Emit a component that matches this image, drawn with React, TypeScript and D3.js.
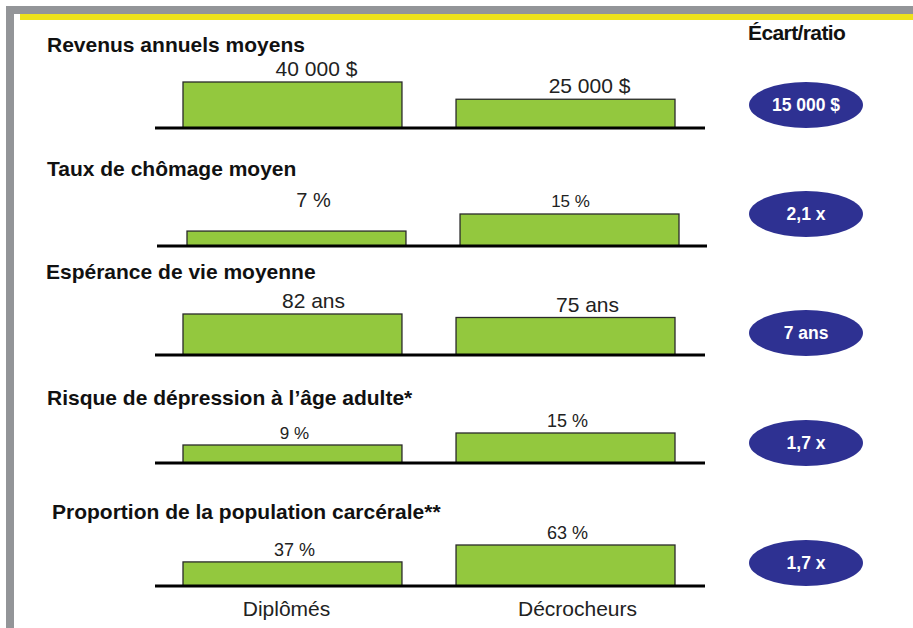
import * as d3 from 'd3';
import * as React from 'react';

const width = 913;
const height = 628;

// data
const groups = ['Diplômés', 'Décrocheurs'];
const indicators = [
  'Revenus annuels moyens',
  'Taux de chômage moyen',
  'Espérance de vie moyenne',
  'Risque de dépression à l’âge adulte*',
  'Proportion de la population carcérale**',
];
const diplomes = [40000, 7, 82, 9, 37];
const decrocheurs = [25000, 15, 75, 15, 63];
const units = ['$', '%', 'ans', '%', '%'];
const ratioLabels = ['15 000 $', '2,1 x', '7 ans', '1,7 x', '1,7 x'];

// layout for each panel (pixels)
const panels = [
  { base: 128, titleX: 47, titleY: 52, barMax: 46, dx: 0, ellY: 105, labelRow: null as number | null, sizes: [21, 21], ldx: [24, 24] },
  { base: 246, titleX: 47, titleY: 176, barMax: 32, dx: 4, ellY: 214, labelRow: 207 as number | null, sizes: [20, 17], ldx: [17, 1] },
  { base: 355, titleX: 46, titleY: 279, barMax: 41, dx: 0, ellY: 333, labelRow: null, sizes: [21, 21], ldx: [21, 22] },
  { base: 463, titleX: 47, titleY: 405, barMax: 30, dx: 0, ellY: 443, labelRow: null, sizes: [17, 18], ldx: [2, 2] },
  { base: 586, titleX: 52, titleY: 519, barMax: 41, dx: 0, ellY: 563, labelRow: null, sizes: [18, 18], ldx: [2, 2] },
];
const groupLabelDx = [-6, 12];

const font = '"Liberation Sans", Arial, sans-serif';
const green = '#93c83e';
const navy = '#2e3192';

const fmt = (v: number, unit: string) => {
  const s = d3.format(',')(v).replace(/,/g, ' ');
  return `${s} ${unit}`;
};

export default function App() {
  const x = d3.scaleBand<string>().domain(groups).range([183, 675]).paddingInner(0.198).paddingOuter(0);

  return (
    <svg
      width={width}
      height={height}
      style={{ position: 'absolute', left: 0, top: 0, background: '#fff' }}
      fontFamily={font}
    >
      {/* frame */}
      <rect x={6} y={6} width={width - 6} height={8} fill="#939598" />
      <rect x={6} y={6} width={8} height={height - 6} fill="#939598" />
      <rect x={20} y={14} width={width - 20} height={6} fill="#ede21b" />

      <text x={748} y={40} fontSize={21} fontWeight="bold" fill="#111" letterSpacing={-0.6}>
        Écart/ratio
      </text>

      {panels.map((p, i) => {
        const vals = [diplomes[i], decrocheurs[i]];
        const y = d3
          .scaleLinear()
          .domain([0, d3.max(vals) as number])
          .range([p.base, p.base - p.barMax]);
        return (
          <g key={i}>
            <text x={p.titleX} y={p.titleY} fontSize={21} fontWeight="bold" fill="#111">
              {indicators[i]}
            </text>
            {vals.map((v, j) => {
              const x0 = (x(groups[j]) as number) + p.dx;
              const top = y(v);
              const ly = p.labelRow ?? top - 6;
              return (
                <g key={j}>
                  <rect
                    x={x0}
                    y={top}
                    width={x.bandwidth()}
                    height={p.base - top}
                    fill={green}
                    stroke="#2a2a2a"
                    strokeWidth={1.3}
                  />
                  <text
                    x={x0 + x.bandwidth() / 2 + p.ldx[j]}
                    y={ly}
                    textAnchor="middle"
                    fontSize={p.sizes[j]}
                    fill="#222"
                  >
                    {fmt(v, units[i])}
                  </text>
                </g>
              );
            })}
            <line
              x1={155 + p.dx / 2}
              x2={705 + p.dx / 2}
              y1={p.base}
              y2={p.base}
              stroke="#000"
              strokeWidth={3}
            />
            <ellipse cx={806} cy={p.ellY} rx={57} ry={23} fill={navy} />
            <text
              x={806}
              y={p.ellY + 6}
              textAnchor="middle"
              fontSize={17.5}
              fontWeight="bold"
              fill="#fff"
            >
              {ratioLabels[i]}
            </text>
          </g>
        );
      })}

      {groups.map((g, j) => (
        <text
          key={g}
          x={(x(g) as number) + x.bandwidth() / 2 + groupLabelDx[j]}
          y={616}
          textAnchor="middle"
          fontSize={21}
          fill="#222"
        >
          {g}
        </text>
      ))}
    </svg>
  );
}
